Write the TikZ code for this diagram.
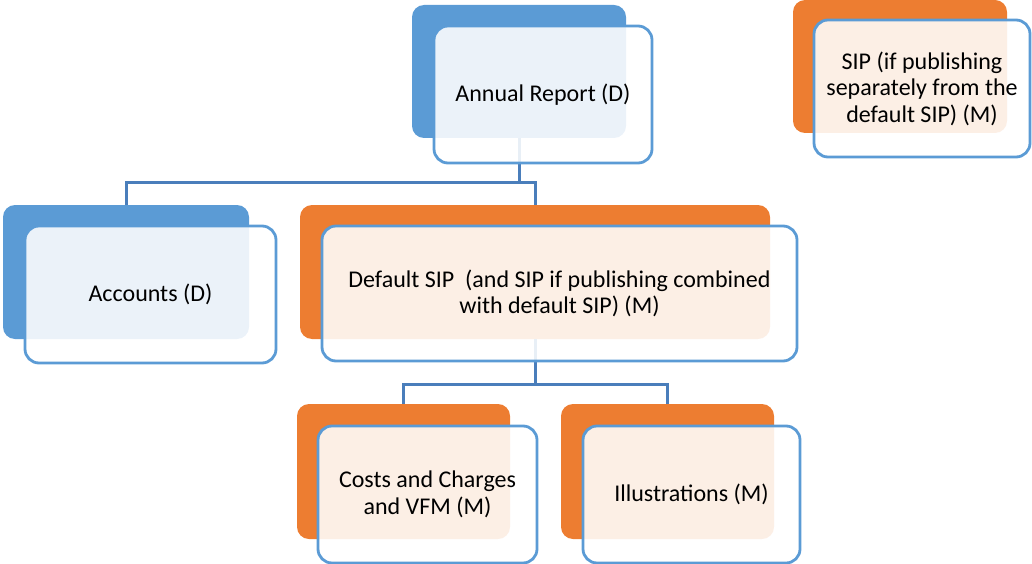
\documentclass[tikz,border=0pt]{standalone}
\usepackage{fontspec}
\setmainfont{Carlito}
\usetikzlibrary{positioning}
\definecolor{AccBlue}{RGB}{91,155,213}
\definecolor{AccOrange}{RGB}{237,125,49}
\definecolor{LinkBlue}{RGB}{74,126,187}
\tikzset{
  backbox/.style={fill=#1, rounded corners=12pt, inner sep=0pt, outer sep=0pt, anchor=north west},
  frontbox/.style={draw=AccBlue, line width=2.8pt, fill=white, fill opacity=0.88, text opacity=1,
    rounded corners=14pt, inner sep=0pt, outer sep=0pt, align=center, anchor=north west,
    font=\fontsize{24}{26.5}\selectfont},
  link/.style={draw=LinkBlue, line width=3pt},
}

\begin{document}
\begin{tikzpicture}[x=1pt, y=-1pt]
  \useasboundingbox (0,0) rectangle (1032,564);
  % back boxes
  \node[backbox=AccBlue, minimum width=214pt, minimum height=133pt] (annb) at (412,5) {};
  \node[backbox=AccOrange, minimum width=214pt, minimum height=133pt] (sipb) at (793,0) {};
  \node[backbox=AccBlue, minimum width=246pt, minimum height=134pt] (accb) at (3,205) {};
  \node[backbox=AccOrange, minimum width=470pt, minimum height=134pt] (dsipb) at (300,205) {};
  \node[backbox=AccOrange, minimum width=213pt, minimum height=135pt] (costb) at (297,404) {};
  \node[backbox=AccOrange, minimum width=213pt, minimum height=135pt] (illub) at (561,404) {};
  % connectors
  \draw[link] (annb.south) -- ++(0,44) -| (accb.north);
  \draw[link] (annb.south) -- ++(0,44) -| (dsipb.north);
  \draw[link] (dsipb.south) -- ++(0,45) -| (costb.north);
  \draw[link] (dsipb.south) -- ++(0,45) -| (illub.north);
  % front boxes
  \node[frontbox, minimum width=218pt, minimum height=137pt] (ann) at (434,26) {Annual Report (D)};
  \node[frontbox, minimum width=216pt, minimum height=137pt] (sip) at (814,20) {SIP (if publishing\\separately from the\\default SIP) (M)};
  \node[frontbox, minimum width=251pt, minimum height=137pt] (acc) at (25,226) {Accounts (D)};
  \node[frontbox, minimum width=475pt, minimum height=135pt] (dsip) at (322,226) {Default SIP\ \ (and SIP if publishing combined\\with default SIP) (M)};
  \node[frontbox, minimum width=219pt, minimum height=137pt] (cost) at (318,426) {Costs and Charges\\and VFM (M)};
  \node[frontbox, minimum width=217pt, minimum height=137pt] (illu) at (583,426) {Illustrations (M)};
\end{tikzpicture}
\end{document}
